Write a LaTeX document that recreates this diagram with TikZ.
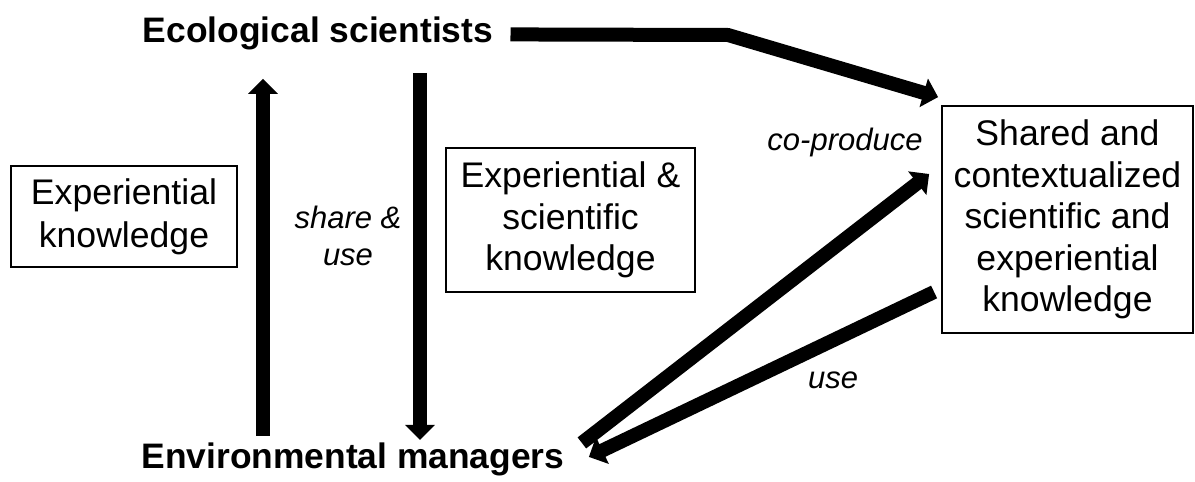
\documentclass[tikz,border=0pt]{standalone}
\usepackage{fontspec}
\setmainfont{Liberation Sans}
\usetikzlibrary{arrows.meta}
\tikzset{>={Triangle[length=7.5pt,width=14.5pt]}}

\begin{document}
\begin{tikzpicture}[x=0.5pt,y=-0.5pt,
    actor/.style={font=\fontsize{17.7}{20}\selectfont\bfseries,inner sep=0pt,anchor=base},
    box/.style={draw,line width=0.9pt,align=center,inner sep=0pt,font=\fontsize{17.8}{20.75}\selectfont},
    lbl/.style={font=\fontsize{15.5}{18.5}\selectfont\itshape,inner sep=0pt,align=center},
    flow/.style={line width=7pt}]
    \useasboundingbox (0,0) rectangle (1195,482);
    \node[actor] (sci) at (318,42) {Ecological scientists};
    \node[actor] (mgr) at (353,468) {Environmental managers};
    \node[box,minimum width=113pt,minimum height=50.5pt,font=\fontsize{17.8}{21.5}\selectfont] (exp) at (124,216.5) {Experiential\\knowledge};
    \node[box,minimum width=124.5pt,minimum height=72pt] (mix) at (570.5,220) {Experiential \&\\scientific\\knowledge};
    \node[box,minimum width=125.5pt,minimum height=113.5pt] (shared) at (1067.5,219.5) {Shared and\\contextualized\\scientific and\\experiential\\knowledge};
    \coordinate (bend) at (728,35);
    \node[lbl] (share) at (348,236) {share \&\\use};
    \node[lbl,anchor=base] (coprod) at (845,150) {co-produce};
    \node[lbl,anchor=base] (uselbl) at (833,388) {use};
    \draw[flow,->] ([shift={(-90,-6)}]mgr.north) -- ([shift={(-55,29)}]sci.south);
    \draw[flow,->] ([shift={(102,23)}]sci.south) -- ([shift={(67,-2)}]mgr.north);
    \draw[flow,->] ([shift={(17,1.5)}]sci.east) -- (bend) -- ([shift={(-3,-8)}]shared.north west);
    \draw[flow,->] ([shift={(17,-16)}]mgr.east) -- ([shift={(-12,-45.5)}]shared.west);
    \draw[flow,->] ([shift={(-7,72.5)}]shared.west) -- ([shift={(24,-2)}]mgr.east);
\end{tikzpicture}
\end{document}
